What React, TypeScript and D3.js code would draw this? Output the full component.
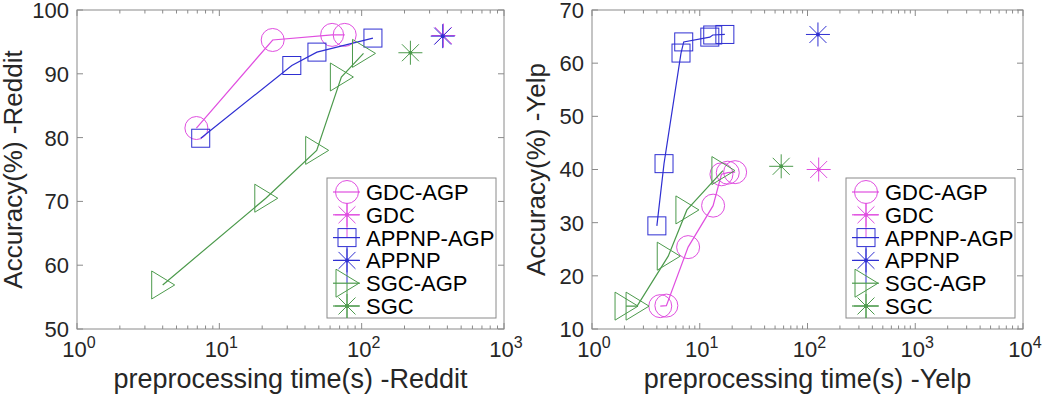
import * as d3 from 'd3';

const W = 1043;
const H = 398;
const FONT = "'Liberation Sans', Arial, Helvetica, sans-serif";
const magenta = '#e04fe0';
const blue = '#2f2fd2';
const green = '#4c9a4c';
const axisGray = '#8a8a8a';
const textColor = '#262626';

// legend / series names
const seriesNames = ['GDC-AGP', 'GDC', 'APPNP-AGP', 'APPNP', 'SGC-AGP', 'SGC'];

// Reddit: [preprocessing time (s), accuracy (%)]
const redditGdcAgp: [number, number][] = [[6.9, 81.5], [23.7, 95.3], [62, 96.1], [76, 96.1]];
const redditGdc: [number, number][] = [[375, 96.0]];
const redditAppnpAgp: [number, number][] = [[7.4, 79.9], [32.3, 91.3], [48.5, 93.4], [120, 95.6]];
const redditAppnp: [number, number][] = [[371, 95.9]];
const redditSgcAgp: [number, number][] = [[4.0, 56.9], [21.2, 70.5], [48.3, 78.0], [72, 89.5], [103, 93.2]];
const redditSgc: [number, number][] = [[220, 93.3]];

// Yelp
const yelpGdcAgp: [number, number][] = [[4.3, 14.3], [4.9, 14.4], [7.8, 25.4], [13.3, 33.2], [15.9, 39.1], [18.2, 39.4], [21.3, 39.5]];
const yelpGdc: [number, number][] = [[127, 40.0]];
const yelpAppnpAgp: [number, number][] = [[4.0, 29.4], [4.66, 41.1], [6.7, 61.9], [7.1, 64.0], [12.4, 64.9], [13.2, 65.3], [17.1, 65.4]];
const yelpAppnp: [number, number][] = [[125, 65.4]];
const yelpSgcAgp: [number, number][] = [[2.07, 14.3], [2.62, 14.3], [5.1, 23.7], [7.6, 32.4], [16.4, 39.8]];
const yelpSgc: [number, number][] = [[57, 40.6]];

const redditYTicks = [50, 60, 70, 80, 90, 100];
const yelpYTicks = [10, 20, 30, 40, 50, 60, 70];
const redditXExps = [0, 1, 2, 3];
const yelpXExps = [0, 1, 2, 3, 4];

const styles = [
  { color: magenta, shape: 'circle' },
  { color: magenta, shape: 'star' },
  { color: blue, shape: 'square' },
  { color: blue, shape: 'star' },
  { color: green, shape: 'triangle' },
  { color: green, shape: 'star' },
];

function Marker({ shape, x, y, color }: { shape: string; x: number; y: number; color: string }) {
  if (shape === 'circle') return <circle cx={x} cy={y} r={11.5} fill="none" stroke={color} strokeWidth={1} />;
  if (shape === 'square') return <rect x={x - 9} y={y - 9} width={18} height={18} fill="none" stroke={color} strokeWidth={1} />;
  if (shape === 'triangle')
    return <path d={`M${x - 11},${y - 14}L${x - 11},${y + 14}L${x + 12},${y}Z`} fill="none" stroke={color} strokeWidth={1} />;
  const r = 12;
  const d = r * Math.SQRT1_2;
  return (
    <g stroke={color} strokeWidth={1}>
      <line x1={x - r} y1={y} x2={x + r} y2={y} />
      <line x1={x} y1={y - r} x2={x} y2={y + r} />
      <line x1={x - d} y1={y - d} x2={x + d} y2={y + d} />
      <line x1={x - d} y1={y + d} x2={x + d} y2={y - d} />
      <circle cx={x} cy={y} r={2} fill={color} stroke="none" />
    </g>
  );
}

function Panel(props: {
  left: number; right: number; top: number; bottom: number;
  xMax: number; yDomain: [number, number]; yTicks: number[]; xExps: number[];
  data: [number, number][][]; xLabel: string; yLabel: string; yLabelX: number;
  legendX: number;
}) {
  const { left, right, top, bottom, yTicks, xExps, data } = props;
  const x = d3.scaleLog().domain([1, props.xMax]).range([left, right]);
  const y = d3.scaleLinear().domain(props.yDomain).range([bottom, top]);
  const line = d3.line<[number, number]>().x(d => x(d[0])).y(d => y(d[1]));

  const minor: number[] = [];
  for (let e = 0; e < xExps.length - 1; e++) for (let k = 2; k <= 9; k++) minor.push(k * Math.pow(10, e));

  const legendTop = 178;
  const rowH = 22.8;
  const legendW = 169;
  const legendH = 140;
  const mx = props.legendX + 20;

  return (
    <g fontFamily={FONT}>
      {/* ticks */}
      <g stroke={axisGray} strokeWidth={1}>
        {xExps.map(e => (
          <g key={'M' + e}>
            <line x1={x(10 ** e)} x2={x(10 ** e)} y1={bottom} y2={bottom - 6} />
            <line x1={x(10 ** e)} x2={x(10 ** e)} y1={top} y2={top + 6} />
          </g>
        ))}
        {minor.map(v => (
          <g key={'m' + v}>
            <line x1={x(v)} x2={x(v)} y1={bottom} y2={bottom - 3.5} />
            <line x1={x(v)} x2={x(v)} y1={top} y2={top + 3.5} />
          </g>
        ))}
        {yTicks.map(t => (
          <g key={'y' + t}>
            <line x1={left} x2={left + 6} y1={y(t)} y2={y(t)} />
            <line x1={right} x2={right - 6} y1={y(t)} y2={y(t)} />
          </g>
        ))}
        <rect x={left} y={top} width={right - left} height={bottom - top} fill="none" />
      </g>
      {/* tick labels */}
      {yTicks.map(t => (
        <text key={'yl' + t} x={left - 8} y={y(t)} dy="0.36em" textAnchor="end" fontSize={22} fill={textColor}>{t}</text>
      ))}
      {xExps.map(e => (
        <text key={'xl' + e} x={x(10 ** e) + 2} y={357} textAnchor="middle" fontSize={22} fill={textColor}>
          10<tspan dy={-9} fontSize={16}>{e}</tspan>
        </text>
      ))}
      <text x={(left + right) / 2} y={388} textAnchor="middle" fontSize={27} fill={textColor}>{props.xLabel}</text>
      <text transform={`translate(${props.yLabelX},${(top + bottom) / 2}) rotate(-90)`} textAnchor="middle" fontSize={26} fill={textColor}>{props.yLabel}</text>

      {/* series */}
      {data.map((pts, i) => (
        <g key={'s' + i}>
          {pts.length > 1 && <path d={line(pts) ?? ''} fill="none" stroke={styles[i].color} strokeWidth={1.2} />}
          {pts.map((p, j) => (
            <Marker key={j} shape={styles[i].shape} x={x(p[0])} y={y(p[1])} color={styles[i].color} />
          ))}
        </g>
      ))}

      {/* legend */}
      <rect x={props.legendX} y={legendTop} width={legendW} height={legendH} fill="white" stroke={axisGray} strokeWidth={1} />
      {seriesNames.map((name, i) => {
        const ry = legendTop + 14 + i * rowH;
        const st = styles[i];
        const half = st.shape === 'circle' ? 11.5 : st.shape === 'square' ? 9 : 0;
        const end = i === seriesNames.length - 1 ? legendTop + legendH : ry + rowH;
        return (
          <g key={name}>
            <line x1={mx} x2={mx} y1={ry + half} y2={end} stroke={st.color} strokeWidth={1} />
            <line x1={mx - 14} x2={mx + 13} y1={ry} y2={ry} stroke={st.color} strokeWidth={1.2} />
            <Marker shape={st.shape} x={mx} y={ry} color={st.color} />
            <text x={mx + 19} y={ry} dy="0.36em" fontSize={22} fill="black">{name}</text>
          </g>
        );
      })}
    </g>
  );
}

export default function App() {
  return (
    <svg width={W} height={H} style={{ position: 'absolute', left: 0, top: 0, background: 'white' }}>
      <rect width={W} height={H} fill="white" />
      <Panel
        left={77} right={504} top={10} bottom={329}
        xMax={1000} yDomain={[50, 100]} yTicks={redditYTicks} xExps={redditXExps}
        data={[redditGdcAgp, redditGdc, redditAppnpAgp, redditAppnp, redditSgcAgp, redditSgc]}
        xLabel="preprocessing time(s) -Reddit" yLabel="Accuracy(%) -Reddit" yLabelX={22}
        legendX={327}
      />
      <Panel
        left={592} right={1023} top={10} bottom={329}
        xMax={10000} yDomain={[10, 70]} yTicks={yelpYTicks} xExps={yelpXExps}
        data={[yelpGdcAgp, yelpGdc, yelpAppnpAgp, yelpAppnp, yelpSgcAgp, yelpSgc]}
        xLabel="preprocessing time(s) -Yelp" yLabel="Accuracy(%) -Yelp" yLabelX={545}
        legendX={846}
      />
    </svg>
  );
}
